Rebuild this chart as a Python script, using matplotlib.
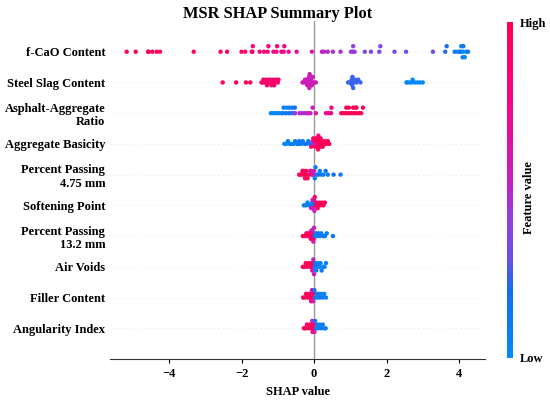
import numpy as np
import matplotlib
matplotlib.use("Agg")
import matplotlib.pyplot as plt
from matplotlib.colors import LinearSegmentedColormap

plt.rcParams['font.family'] = ['Liberation Serif', 'DejaVu Serif']
plt.rcParams['font.weight'] = 'bold'

# features, top to bottom
features = ["f-CaO Content", "Steel Slag Content", "Asphalt-Aggregate\nRatio",
            "Aggregate Basicity", "Percent Passing\n4.75 mm", "Softening Point",
            "Percent Passing\n13.2 mm", "Air Voids", "Filler Content", "Angularity Index"]

# SHAP values and (normalised) feature values
fcao_shap = [-5.17, -4.92, -4.58, -4.56, -4.46, -4.34, -4.25, -3.32, -2.58, -2.40,
             -2.00, -1.90, -1.72, -1.70, -1.69, -1.50, -1.38, -1.28, -1.26, -1.12,
             -1.04, -1.02, -0.90, -0.84, -0.82, -0.70, -0.48, -0.06, 0.22, 0.28,
             0.38, 0.52, 0.73, 1.02, 1.07, 1.08, 1.12, 1.40, 1.57, 1.80,
             1.83, 2.22, 2.54, 3.28, 3.62, 3.66, 3.88, 3.96, 4.02, 4.05,
             4.06, 4.10, 4.11, 4.12, 4.16, 4.20, 4.25]
fcao_fv = [1.0, 1.0, 0.98, 0.98, 0.97, 0.97, 0.96, 0.92, 0.9, 0.9,
           0.88, 0.88, 0.86, 0.85, 0.85, 0.84, 0.83, 0.82, 0.82, 0.8,
           0.8, 0.79, 0.78, 0.78, 0.77, 0.76, 0.62, 0.56, 0.52, 0.5,
           0.5, 0.48, 0.47, 0.44, 0.43, 0.42, 0.42, 0.37, 0.36, 0.35,
           0.34, 0.33, 0.32, 0.3, 0.22, 0.21, 0.12, 0.05, 0.03, 0.18,
           0.02, 0.06, 0.0, 0.15, 0.04, 0.02, 0.08]

slag_shap = [-2.52, -2.15, -1.88, -1.76, -1.45, -1.42, -1.40, -1.36, -1.33, -1.30,
             -1.28, -1.25, -1.22, -1.20, -1.18, -1.15, -1.12, -1.10, -1.08, -1.04,
             -1.00, -0.98,
             -0.32, -0.28, -0.25, -0.22, -0.20, -0.19, -0.17, -0.16, -0.15, -0.14,
             -0.13, -0.12, -0.10, -0.08, -0.06, -0.04, 0.00, 0.05,
             0.94, 0.98, 1.02, 1.04, 1.05, 1.06, 1.08, 1.10, 1.13, 1.17, 1.22, 1.28,
             2.55, 2.58, 2.64, 2.70, 2.72, 2.78, 2.85, 2.92, 3.00]
slag_fv = [0.99, 0.98, 0.97, 0.96] + [0.9] * 18 + [0.56] * 18 + [0.24] * 12 + [0.02] * 9

asph_shap = [-1.19, -1.12, -1.05, -0.98, -0.90, -0.86, -0.84, -0.78, -0.76, -0.70,
             -0.68, -0.62, -0.60, -0.55, -0.53, -0.52,
             -0.40, -0.33, -0.26, -0.18, -0.17, -0.10, -0.04, 0.05,
             0.33, 0.40, 0.47, 0.48,
             0.75, 0.82, 0.88, 0.89, 0.95, 0.96, 1.02, 1.08, 1.09, 1.15, 1.16, 1.17,
             1.24, 1.30, 1.35]
asph_fv = [0.02, 0.03, 0.04, 0.05, 0.05, 0.12, 0.06, 0.14, 0.07, 0.15,
           0.08, 0.16, 0.1, 0.3, 0.18, 0.4,
           0.48, 0.5, 0.5, 0.52, 0.5, 0.52, 0.54, 0.55,
           0.75, 0.76, 0.78, 0.8,
           0.95, 0.96, 0.96, 0.97, 0.97, 0.98, 0.98, 0.98, 0.99, 0.99, 1.0, 1.0,
           1.0, 1.0, 1.0]

basic_shap = [-0.82, -0.77, -0.72, -0.67, -0.62, -0.57, -0.52, -0.47, -0.42, -0.41,
              -0.36, -0.31, -0.26, -0.21, -0.16, -0.11, -0.07,
              -0.04, 0.02, 0.06,
              -0.08, -0.02, 0.00, 0.03, 0.05, 0.07, 0.08, 0.10, 0.11, 0.12,
              0.14, 0.15, 0.17, 0.18, 0.20, 0.22, 0.24, 0.27, 0.30, 0.34, 0.38, 0.42]
basic_fv = [0.02, 0.03, 0.04, 0.05, 0.05, 0.06, 0.07, 0.08, 0.1, 0.12,
            0.1, 0.11, 0.12, 0.13, 0.14, 0.15, 0.16,
            0.5, 0.52, 0.55,
            0.9, 0.92, 0.88, 0.93, 0.95, 0.9, 0.96, 0.94, 0.97, 0.85,
            0.96, 0.98, 0.92, 0.97, 0.99, 0.95, 0.98, 1.0, 0.97, 0.99, 1.0, 0.98]

pp475_shap = [-0.41, -0.36, -0.32, -0.30, -0.28, -0.25, -0.22, -0.21, -0.18, -0.14,
              -0.10, -0.06, -0.08, -0.02, 0.00,
              0.02, 0.04, 0.08, 0.12, 0.16, 0.20, 0.26, 0.32, 0.38, 0.54, 0.73]
pp475_fv = [1.0, 0.98, 0.97, 0.96, 0.98, 0.95, 0.97, 0.94, 0.96, 0.93,
            0.92, 0.9, 0.6, 0.58, 0.55,
            0.1, 0.12, 0.08, 0.15, 0.1, 0.12, 0.08, 0.18, 0.1, 0.2, 0.12]

soft_shap = [-0.28, -0.22, -0.18, -0.13, -0.09, -0.05, -0.03, -0.01,
             -0.08, -0.04, -0.02, 0.00, 0.01,
             0.02, 0.05, 0.07, 0.10, 0.12, 0.15, 0.18, 0.22, 0.26, 0.30]
soft_fv = [0.1, 0.08, 0.12, 0.05, 0.1, 0.15, 0.06, 0.12,
           0.55, 0.5, 0.58, 0.6, 0.52,
           0.95, 0.98, 0.93, 0.97, 1.0, 0.96, 0.94, 0.98, 0.97, 1.0]

pp132_shap = [-0.31, -0.26, -0.21, -0.18, -0.15, -0.12, -0.10, -0.09, -0.07, -0.05,
              -0.03, -0.01, -0.06, -0.02, 0.00,
              0.02, 0.05, 0.08, 0.12, 0.16, 0.20, 0.25, 0.30, 0.35, 0.52]
pp132_fv = [0.98, 0.95, 1.0, 0.96, 0.93, 0.97, 0.95, 0.92, 0.96, 0.94,
            0.9, 0.93, 0.55, 0.6, 0.52,
            0.12, 0.1, 0.08, 0.15, 0.1, 0.05, 0.12, 0.1, 0.08, 0.15]

air_shap = [-0.31, -0.27, -0.23, -0.19, -0.15, -0.11, -0.07, -0.05, -0.03,
            -0.05, -0.02, 0.00,
            0.02, 0.04, 0.06, 0.09, 0.12, 0.15, 0.18, 0.21, 0.25, 0.29, 0.33]
air_fv = [1.0, 0.96, 0.98, 0.95, 0.97, 0.93, 0.96, 0.9, 0.94,
          0.55, 0.5, 0.58,
          0.15, 0.1, 0.05, 0.12, 0.08, 0.1, 0.04, 0.12, 0.06, 0.08, 0.05]

filler_shap = [-0.30, -0.26, -0.22, -0.18, -0.15, -0.12, -0.10, -0.08, -0.05, -0.03,
               -0.06, -0.02,
               0.01, 0.04, 0.07, 0.10, 0.13, 0.16, 0.20, 0.24, 0.28, 0.33]
filler_fv = [1.0, 0.97, 0.95, 0.98, 0.93, 0.96, 0.92, 0.95, 0.9, 0.94,
             0.58, 0.52,
             0.15, 0.1, 0.12, 0.05, 0.08, 0.12, 0.06, 0.1, 0.05, 0.08]

ang_shap = [-0.28, -0.24, -0.20, -0.16, -0.12, -0.09, -0.06, -0.04, -0.02, 0.00,
            -0.05, 0.01,
            0.03, 0.06, 0.09, 0.12, 0.16, 0.20, 0.24, 0.28, 0.32]
ang_fv = [0.98, 1.0, 0.95, 0.97, 0.93, 0.96, 0.92, 0.95, 0.9, 0.97,
          0.55, 0.6,
          0.15, 0.1, 0.08, 0.12, 0.05, 0.1, 0.15, 0.06, 0.08]

shap_rows = [fcao_shap, slag_shap, asph_shap, basic_shap, pp475_shap,
             soft_shap, pp132_shap, air_shap, filler_shap, ang_shap]
fv_rows = [fcao_fv, slag_fv, asph_fv, basic_fv, pp475_fv,
           soft_fv, pp132_fv, air_fv, filler_fv, ang_fv]

# shap-like red/blue map
cmap = LinearSegmentedColormap.from_list("red_blue", [
    (0.0, (0.0, 0.545, 0.984)),
    (0.2, (0.08, 0.43, 0.94)),
    (0.3, (0.43, 0.31, 0.9)),
    (0.43, (0.59, 0.24, 0.86)),
    (0.53, (0.78, 0.12, 0.75)),
    (0.75, (0.96, 0.02, 0.55)),
    (1.0, (1.0, 0.0, 0.32)),
])


def swarm(vals, width=0.07, row_height=0.4):
    # beeswarm offsets like shap: stack points falling in the same bin
    vals = np.asarray(vals)
    quant = np.round((vals - vals.min()) / width)
    inds = np.argsort(quant, kind="stable")
    ys = np.zeros(len(vals))
    layer = 0
    last_bin = -1
    for i in inds:
        if quant[i] != last_bin:
            layer = 0
        ys[i] = np.ceil(layer / 2) * ((layer % 2) * 2 - 1)
        layer += 1
        last_bin = quant[i]
    ys *= 0.9 * (row_height / np.max(ys + 1))
    return ys


fig = plt.figure(figsize=(5.5, 4), dpi=100)
ax = fig.add_axes([0.2, 0.1025, 0.682, 0.845])

n = len(features)
ax.axvline(0, color="#999999", lw=1.0, zorder=-1)
for i, (sv, fv) in enumerate(zip(shap_rows, fv_rows)):
    pos = n - 1 - i
    ax.axhline(pos, color="#cccccc", lw=0.5, dashes=(1, 5), zorder=-1)
    ys = swarm(sv)
    sc = ax.scatter(sv, pos + ys, c=fv, cmap=cmap, vmin=0, vmax=1,
                    s=10, linewidth=0, zorder=3)

ax.set_yticks(range(n))
ax.set_yticklabels(features[::-1], fontsize=9, fontweight='bold', ha='right',
                   multialignment='right')
ax.tick_params(axis='y', length=0, pad=3.5)
ax.tick_params(axis='x', labelsize=9, length=3, width=0.8)
for lab in ax.get_xticklabels():
    lab.set_fontweight('bold')
ax.set_ylim(-1, n)
ax.set_xlim(-5.63, 4.72)
ax.set_xticks([-4, -2, 0, 2, 4])
for sp in ['top', 'right', 'left']:
    ax.spines[sp].set_visible(False)
ax.spines['bottom'].set_color('#333333')
ax.set_xlabel("SHAP value", fontsize=9, fontweight='bold', labelpad=4)

# title is centred on the figure, not the axes
fig.text(277.5 / 550, 1 - 18 / 400, "MSR SHAP Summary Plot", ha='center',
         va='baseline', fontsize=11.8, fontweight='bold')

cax = fig.add_axes([507 / 550, 42 / 400, 5.5 / 550, 336 / 400])
cb = fig.colorbar(sc, cax=cax, ticks=[0, 1])
cb.set_ticklabels(["Low", "High"])
cb.outline.set_visible(False)
cax.tick_params(length=0, labelsize=9, pad=5)
for lab in cax.get_yticklabels():
    lab.set_fontweight('bold')
fig.text(529 / 550, 0.505, "Feature value", rotation=90, ha='center', va='center',
         fontsize=9, fontweight='bold')

fig.savefig("out.png", dpi=100)
